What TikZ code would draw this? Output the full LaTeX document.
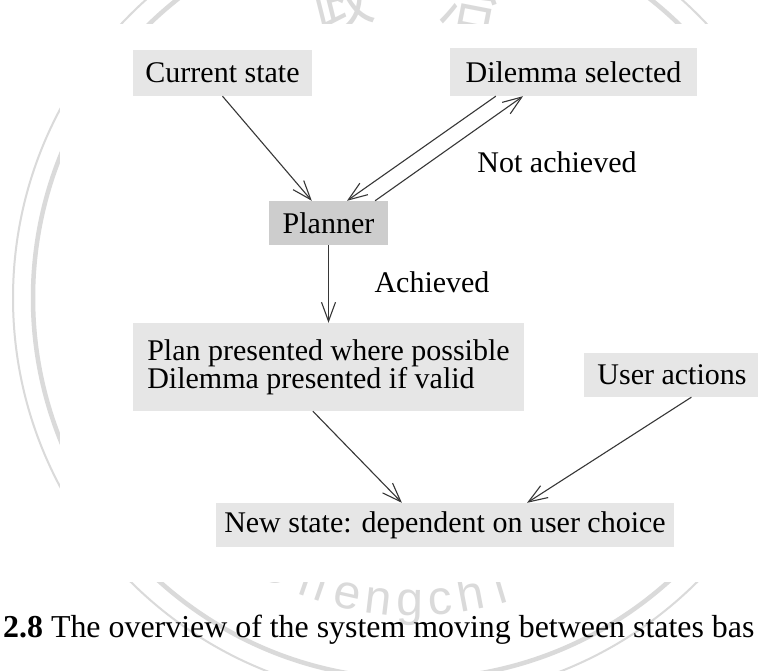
\documentclass[tikz,border=0pt]{standalone}
\usepackage{fontspec}
\setmainfont{Liberation Serif}
\newfontfamily\wmsans{Liberation Sans}
\newfontfamily\cjk{Noto Sans CJK TC}
\usetikzlibrary{arrows.meta,calc}
\definecolor{boxgray}{RGB}{230,230,230}
\definecolor{plannergray}{RGB}{205,205,205}
\definecolor{wmgray}{RGB}{218,218,218}
\definecolor{linegray}{RGB}{55,55,55}
\begin{document}
\begin{tikzpicture}[x=1pt,y=1pt,
  box/.style={fill=boxgray, inner sep=0pt, font=\fontsize{30}{28}\selectfont},
  lbl/.style={inner sep=0pt, font=\fontsize{30}{28}\selectfont},
  arr/.style={draw=linegray, line width=1.1pt, -{Straight Barb[length=19pt,width=14pt]}},
  wmcjk/.style={wmgray, inner sep=0pt, font=\cjk\fontsize{60}{60}\selectfont},
  wmlatin/.style={wmgray, inner sep=0pt, font=\wmsans\fontsize{48}{48}\selectfont}]
\useasboundingbox (0,0) rectangle (758,671);
\clip (0,0) rectangle (758,671);
\fill[white] (0,0) rectangle (758,671);

% university seal in the page background
\coordinate (sealc) at (414,373);
\draw[wmgray, line width=2pt] (sealc) circle[radius=401];
\draw[wmgray, line width=4.5pt] (sealc) circle[radius=381];
\node[wmcjk, rotate=14] (wm1) at (342,669) {政};
\node[wmcjk, rotate=-11] (wm2) at (470,669) {治};
\foreach \lt/\a in {C/-27.5, h/-19.2, e/-12.6, n/-6.8, g/-0.8, c/5.0, h/10.8, i/16.6}
  \path (sealc) ++(\a-90:318) node[wmlatin, anchor=base, rotate=\a] {\lt};

% white figure area over the seal
\fill[white] (60,89) rectangle (758,647);

% boxes
\node[box, minimum width=179, minimum height=46] (cur) at (222.5,598) {Current state};
\node[box, minimum width=247, minimum height=48] (dil) at (573.5,599) {Dilemma selected};
\node[box, fill=plannergray, minimum width=119, minimum height=44] (pl) at (328.5,448) {Planner};
\node[box, minimum width=391, minimum height=88, align=left] (plan) at (328.5,304)
  {Plan presented where possible\\Dilemma presented if valid};
\node[box, minimum width=176, minimum height=44] (user) at (672,296) {User actions};
\node[box, minimum width=458, minimum height=44] (new) at (445,146) {New state: dependent on user choice};

% edge labels
\node[lbl] (notach) at (557,509) {Not achieved};
\node[lbl] (ach) at (432,389) {Achieved};

% connectors
\draw[arr] (cur.south) -- ($(pl.north west)!0.36!(pl.north east)$);
\draw[arr] ($(dil.south west)!0.186!(dil.south east)$) -- ($(pl.north west)!0.655!(pl.north east)$);
\draw[arr] ($(pl.north west)!0.89!(pl.north east)$) -- ($(dil.south west)!0.296!(dil.south east)$);
\draw[arr] (pl.south) -- (plan.north);
\draw[arr] ($(plan.south west)!0.46!(plan.south east)$) -- ($(new.north west)!0.406!(new.north east)$);
\draw[arr] ($(user.south west)!0.61!(user.south east)$) -- ($(new.north west)!0.679!(new.north east)$);

% caption line
\node[anchor=base west, inner sep=0pt, font=\fontsize{31.9}{36}\selectfont] (cap) at (3,33)
  {\textbf{2.8} The overview of the system moving between states bas};
\end{tikzpicture}
\end{document}
